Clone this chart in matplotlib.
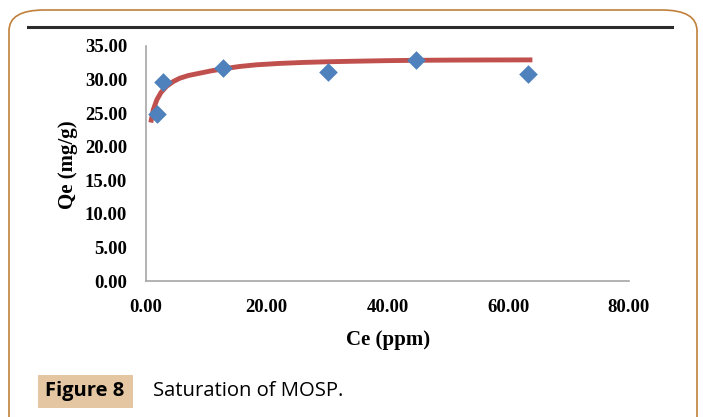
import matplotlib
matplotlib.use("Agg")
import matplotlib.pyplot as plt
from matplotlib.patches import FancyBboxPatch, Rectangle
from matplotlib.lines import Line2D

# Data
ce_points = [1.8, 2.8, 12.7, 30.1, 44.7, 63.2]
qe_points = [24.9, 29.7, 31.7, 31.1, 32.9, 30.8]

# Fitted curve samples
fit_x = [0.8, 1.2, 1.8, 2.5, 3.4, 4.5, 5.6, 7.0, 8.9, 10.8, 12.8, 15.5, 18.3, 22.0, 26.0, 30.0, 33.8, 40.0, 45.0, 50.3, 57.0, 64.0]
fit_y = [23.6, 25.5, 27.0, 28.1, 29.0, 29.7, 30.2, 30.6, 30.95, 31.3, 31.6, 31.95, 32.2, 32.4, 32.55, 32.65, 32.72, 32.82, 32.87, 32.9, 32.92, 32.93]

xticks = [0, 20, 40, 60, 80]
yticks = [0, 5, 10, 15, 20, 25, 30, 35]

W, H = 703, 417
fig = plt.figure(figsize=(W / 100, H / 100), dpi=100)

# rounded border
border = FancyBboxPatch((9 / W, -40 / H), (688 / W), (H - 10 + 40) / H,
                        boxstyle="round,pad=0,rounding_size=0.05",
                        transform=fig.transFigure, fill=False,
                        edgecolor="#c0803a", linewidth=1.2, clip_on=False)
fig.patches.append(border)
# top dark rule
fig.add_artist(Line2D([28 / W, 672 / W], [1 - 27 / H, 1 - 27 / H],
                      transform=fig.transFigure, color="#2b2b2b", linewidth=2.2))

ax = fig.add_axes([146 / W, 1 - 281 / H, (629 - 146) / W, (281 - 46) / H])
ax.plot(fit_x, fit_y, color="#c0504d", linewidth=3.5, solid_capstyle="butt", zorder=2)
ax.scatter(ce_points, qe_points, marker="D", s=90, color="#4f81bd", zorder=3, linewidths=0)

ax.set_xlim(0, 80)
ax.set_ylim(0, 35)
ax.set_xticks(xticks)
ax.set_yticks(yticks)
ax.set_xticklabels([f"{v:.2f}" for v in xticks])
ax.set_yticklabels([f"{v:.2f}" for v in yticks])
for s in ["top", "right"]:
    ax.spines[s].set_visible(False)
for s in ["left", "bottom"]:
    ax.spines[s].set_color("#a6a6a6")
    ax.spines[s].set_linewidth(1.2)
ax.tick_params(length=0)
for lab in ax.get_xticklabels() + ax.get_yticklabels():
    lab.set_fontfamily("Liberation Serif")
    lab.set_fontweight("bold")
    lab.set_fontsize(13.5)
ax.tick_params(axis="y", pad=13.5)
ax.tick_params(axis="x", pad=13)

fig.text(388 / W, 1 - 340 / H, "Ce (ppm)", ha="center", va="center",
         fontfamily="Liberation Serif", fontweight="bold", fontsize=15)
fig.text(68 / W, 1 - 165 / H, "Qe (mg/g)", ha="center", va="center", rotation=90,
         fontfamily="Liberation Serif", fontweight="bold", fontsize=15)

# caption
fig.add_artist(Rectangle((38 / W, 1 - 408 / H), 95 / W, 33 / H, transform=fig.transFigure,
                         facecolor="#e4c6a2", edgecolor="none"))
fig.text(85 / W, 1 - 391 / H, "Figure 8", ha="center", va="center",
         fontfamily="Open Sans", fontweight="bold", fontsize=14.5)
fig.text(153 / W, 1 - 391 / H, "Saturation of MOSP.", ha="left", va="center",
         fontfamily="Open Sans", fontsize=14.6)

fig.savefig("out.png", dpi=100)
